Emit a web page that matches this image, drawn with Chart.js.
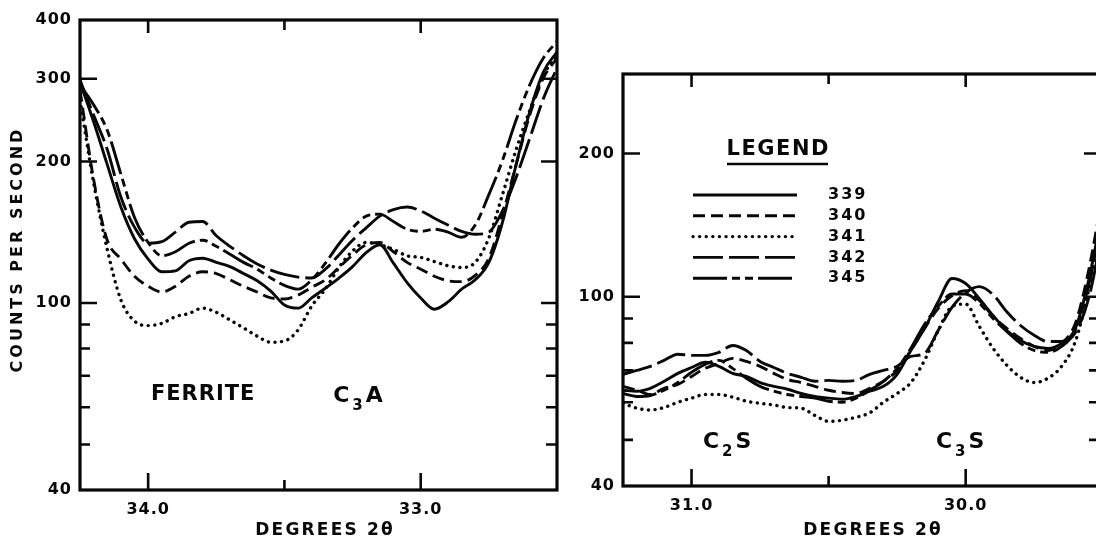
<!DOCTYPE html>
<html>
<head>
<meta charset="utf-8">
<title>Diffraction traces, clinker samples</title>
<script src="https://cdn.jsdelivr.net/npm/chart.js@4.4.1/dist/chart.umd.min.js"></script>
<style>
html, body { margin: 0; padding: 0; background: #fff; overflow: hidden; }
body { position: relative; width: 1096px; height: 543px; }
canvas { position: absolute; top: 0; }
#ferrite_chart { left: 0; }
#silicate_chart { left: 570px; }
</style>
</head>
<body>
<canvas id="ferrite_chart" width="570" height="543"></canvas>
<canvas id="silicate_chart" width="540" height="543"></canvas>
<script>
var samples = ['339', '340', '341', '342', '345'];
var lineDashes = [[], [12, 6], [0.1, 6.5], [30, 6], [34, 5, 8, 5, 8, 5]];

// ferrite / C3A window (degrees 2-theta, counts per second)
var leftDeg = [34.25, 34.20, 34.15, 34.10, 34.05, 34.00, 33.95, 33.90, 33.85, 33.80, 33.75, 33.70,
               33.65, 33.60, 33.55, 33.50, 33.45, 33.40, 33.35, 33.30, 33.25, 33.20, 33.15, 33.10,
               33.05, 33.00, 32.95, 32.90, 32.85, 32.80, 32.75, 32.70, 32.65, 32.60, 32.55, 32.50];
var left339 = [295, 243, 197, 160, 137, 124, 116.5, 117, 123, 124.5, 122, 119.5,
               115.5, 111.5, 106, 99, 97.5, 102.5, 107.5, 113, 119.5, 128, 133, 121.5,
               110.5, 102.5, 97, 100.5, 107, 112, 122, 148.5, 197, 255, 310, 342];
var left340 = [284, 183, 136, 124, 114, 108.5, 105.5, 108.5, 114, 116.5, 115.5, 112,
               108.5, 105.5, 102.5, 102, 104, 108, 112, 119, 126.5, 133, 134.5, 128.5,
               122, 118, 114, 111.5, 111, 114.5, 124.5, 154, 197, 251, 301, 332];
var left341 = [270, 180, 130, 101.5, 91.5, 89.5, 90.5, 93.5, 95, 97.5, 95.5, 92,
               88.5, 85, 82.5, 83, 87.6, 98.5, 107, 119, 129, 134.5, 133, 130,
               126, 125, 122.5, 120, 119, 122, 137.5, 170, 212, 257, 305, 337];
var left342 = [298, 251, 212, 168, 145, 134, 135, 141.5, 148.5, 149, 139, 132,
               126, 121, 117.5, 115, 113.5, 113, 118, 126.5, 136, 144.5, 153, 158,
               160, 157, 151.5, 146.5, 142, 140, 141.5, 157, 185, 224, 272, 316];
var left345 = [291, 264, 233, 188, 152, 134.5, 126, 128.5, 134, 136, 132, 127,
               122, 118, 113, 109, 107, 112, 121.5, 133.5, 144.5, 153, 154.5, 149,
               143.5, 142, 143.5, 141.5, 138, 146.5, 170, 201, 245, 291, 332, 360];

// C2S / C3S window
var rightDeg = [31.25, 31.20, 31.15, 31.10, 31.05, 31.00, 30.95, 30.90, 30.85, 30.80, 30.75, 30.70,
                30.65, 30.60, 30.55, 30.50, 30.45, 30.40, 30.35, 30.30, 30.25, 30.20, 30.15, 30.10,
                30.05, 30.00, 29.95, 29.90, 29.85, 29.80, 29.75, 29.70, 29.65, 29.60, 29.55, 29.50];
var right339 = [63.6, 63.3, 64.2, 66.4, 69.0, 71.0, 72.8, 71.4, 69.0, 68.0, 66.0, 64.8,
                63.9, 62.6, 61.7, 61.2, 60.9, 61.7, 63.3, 64.8, 68.7, 77.1, 85.8, 97.7,
                109.2, 106.6, 99.1, 91.3, 84.9, 80.9, 78.6, 77.9, 79.8, 85.8, 109.2, 153];
var right340 = [64.8, 63.6, 62.3, 64.2, 65.4, 68.0, 70.7, 72.4, 74.2, 73.1, 71.4, 69.0,
                67.0, 66.0, 64.8, 63.6, 62.9, 62.6, 64.2, 66.4, 70.0, 77.1, 85.8, 94.5,
                100.5, 103, 98.2, 90.9, 85.8, 81.7, 78.6, 77.1, 79.8, 87.9, 114.6, 165];
var right341 = [59.7, 58.3, 57.8, 58.5, 60.0, 61.2, 62.3, 62.3, 61.5, 60.3, 59.7, 59.2,
                58.5, 58.3, 56.3, 54.7, 55.0, 55.8, 57.0, 60.0, 62.6, 66.0, 73.5, 84.9,
                95.4, 96.5, 86.6, 77.9, 71.8, 67.7, 66.0, 67.4, 71.4, 80.5, 104, 142];
var right342 = [68.7, 70.0, 71.4, 73.5, 75.7, 75.3, 75.3, 76.4, 79.0, 77.1, 73.1, 71.0,
                69.0, 67.7, 66.4, 66.7, 66.4, 66.7, 68.7, 70.0, 71.4, 74.9, 76, 85,
                95, 102, 105, 101, 93, 87, 83, 80.5, 80.5, 84, 100, 138];
var right345 = [62.6, 61.7, 62.0, 63.6, 66.0, 69.4, 72.1, 73.5, 70.7, 67.4, 64.8, 63.3,
                62.3, 61.7, 61.2, 60.3, 60.0, 61.2, 63.6, 66.4, 70.7, 77.9, 87.5, 95.5,
                101.3, 101.3, 96.9, 90.0, 84.5, 79.8, 77.1, 76.4, 78.6, 85.1, 106.6, 149];

var leftXTicks = [34.0, 33.0];
var leftXMinor = [33.5];
var leftYTicks = [40, 100, 200, 300, 400];
var rightXTicks = [31.0, 30.0];
var rightXMinor = [30.5];
var rightYTicks = [40, 100, 200];
var yMinor = [50, 60, 70, 80, 90];

var ink = '#080808';
var face = '"DejaVu Sans"';
var tickFont = { family: 'DejaVu Sans', size: 16, weight: 'bold' };

function label(ctx, text, x, y, px, spacing, align) {
  ctx.save();
  ctx.font = 'bold ' + px + 'px ' + face;
  ctx.letterSpacing = spacing + 'px';
  ctx.fillStyle = ink;
  ctx.textAlign = align || 'center';
  ctx.textBaseline = 'middle';
  // letterSpacing leaves a trailing gap, pull centred text back by half of it
  ctx.fillText(text, x + (align ? 0 : spacing / 2), y);
  ctx.restore();
}

// phase names such as C3A, with the digit set as a subscript
function chem(ctx, x, y, head, sub, tail) {
  var big = 'bold 22px ' + face, small = 'bold 15px ' + face;
  ctx.save();
  ctx.fillStyle = ink;
  ctx.letterSpacing = '0px';
  ctx.textAlign = 'left';
  ctx.textBaseline = 'alphabetic';
  ctx.font = big;
  var w1 = ctx.measureText(head).width, w3 = ctx.measureText(tail).width;
  ctx.font = small;
  var w2 = ctx.measureText(sub).width;
  var gap = 3, sx = x - (w1 + w2 + w3 + 2 * gap) / 2, base = y + 8;
  ctx.font = big;
  ctx.fillText(head, sx, base);
  ctx.font = small;
  ctx.fillText(sub, sx + w1 + gap, base + 8);
  ctx.font = big;
  ctx.fillText(tail, sx + w1 + w2 + 2 * gap, base);
  ctx.restore();
}

var framePlugin = {
  id: 'frame',
  beforeDraw: function (chart) {
    chart.ctx.letterSpacing = '1px';
  },
  afterDraw: function (chart, args, opts) {
    var ctx = chart.ctx, a = chart.chartArea;
    var xs = chart.scales.x, ys = chart.scales.y;
    ctx.save();
    ctx.strokeStyle = ink;
    ctx.setLineDash([]);
    ctx.lineWidth = 3.2;
    ctx.strokeRect(a.left, a.top, a.right - a.left, a.bottom - a.top);
    ctx.lineWidth = 2.6;
    ctx.beginPath();
    opts.xMajor.forEach(function (v) {
      var px = xs.getPixelForValue(v);
      ctx.moveTo(px, a.bottom); ctx.lineTo(px, a.bottom - 17);
      ctx.moveTo(px, a.top); ctx.lineTo(px, a.top + 13);
    });
    opts.xMinor.forEach(function (v) {
      var px = xs.getPixelForValue(v);
      ctx.moveTo(px, a.bottom); ctx.lineTo(px, a.bottom - 10);
      ctx.moveTo(px, a.top); ctx.lineTo(px, a.top + 10);
    });
    opts.yMajor.forEach(function (v) {
      if (v <= ys.min || v >= ys.max) return;
      var py = ys.getPixelForValue(v);
      ctx.moveTo(a.left, py); ctx.lineTo(a.left + 17, py);
      ctx.moveTo(a.right, py); ctx.lineTo(a.right - 16, py);
    });
    opts.yMinor.forEach(function (v) {
      var py = ys.getPixelForValue(v);
      ctx.moveTo(a.left, py); ctx.lineTo(a.left + 10, py);
      ctx.moveTo(a.right, py); ctx.lineTo(a.right - 11, py);
    });
    ctx.stroke();
    ctx.restore();
  }
};

var notesPlugin = {
  id: 'notes',
  afterDraw: function (chart, args, opts) {
    var ctx = chart.ctx, a = chart.chartArea;
    var xs = chart.scales.x, ys = chart.scales.y;
    if (opts.yTitle) {
      ctx.save();
      ctx.translate(17.5, 251);
      ctx.rotate(-Math.PI / 2);
      label(ctx, opts.yTitle, 0, 0, 16, 3);
      ctx.restore();
    }
    label(ctx, 'DEGREES 2\u03b8', opts.xTitleX, 531, 17, 2.2);
    opts.phases.forEach(function (p) {
      var px = xs.getPixelForValue(p.deg), py = ys.getPixelForValue(p.at);
      if (p.sub) chem(ctx, px, py, p.head, p.sub, p.tail);
      else label(ctx, p.head, px, py, 21, 1);
    });
    if (!opts.legend) return;
    var x1 = a.left + 70, x2 = a.left + 174, lx = a.left + 205;
    label(ctx, 'LEGEND', a.left + 154.5, 150, 21, 1.5);
    ctx.save();
    ctx.strokeStyle = ink;
    ctx.lineWidth = 2.6;
    ctx.beginPath();
    ctx.moveTo(a.left + 104, 164); ctx.lineTo(a.left + 205, 164);
    ctx.stroke();
    chart.data.datasets.forEach(function (ds, i) {
      var y = 195 + i * 20.8;
      ctx.setLineDash(ds.borderDash);
      ctx.lineCap = ds.borderCapStyle;
      ctx.lineWidth = ds.borderWidth;
      ctx.beginPath();
      ctx.moveTo(x1, y); ctx.lineTo(x2, y);
      ctx.stroke();
      label(ctx, ds.label, lx, y, 16, 2, 'left');
    });
    ctx.restore();
  }
};

function datasets(xs, series) {
  return series.map(function (vals, i) {
    return {
      label: samples[i],
      data: xs.map(function (x, k) { return { x: x, y: vals[k] }; }),
      borderColor: ink,
      borderWidth: i === 2 ? 3.4 : 2.9,
      borderDash: lineDashes[i],
      borderCapStyle: i === 2 ? 'round' : 'butt',
      pointRadius: 0,
      cubicInterpolationMode: 'monotone',
      fill: false
    };
  });
}

function panel(id, xs, series, o) {
  return new Chart(document.getElementById(id), {
    type: 'line',
    data: { datasets: datasets(xs, series) },
    plugins: [framePlugin, notesPlugin],
    options: {
      responsive: false,
      animation: false,
      events: [],
      layout: { padding: { top: o.top, right: o.padRight, left: 0, bottom: 0 } },
      plugins: {
        legend: { display: false },
        tooltip: { enabled: false },
        frame: { xMajor: o.xTicks, xMinor: o.xMinor, yMajor: o.yTicks, yMinor: yMinor },
        notes: o.notes
      },
      scales: {
        x: {
          type: 'linear', reverse: true, min: o.xMin, max: o.xMax,
          grid: { display: false, drawTicks: false },
          border: { display: false },
          ticks: {
            font: tickFont, color: ink, padding: 10, autoSkip: false, maxRotation: 0,
            callback: function (v) { return Number(v).toFixed(1); }
          },
          afterBuildTicks: function (s) { s.ticks = o.xTicks.map(function (v) { return { value: v }; }); },
          afterFit: function (s) { s.height = o.xAxisHeight; }
        },
        y: {
          type: 'logarithmic', min: 40, max: o.yMax,
          grid: { display: false, drawTicks: false },
          border: { display: false },
          ticks: { font: tickFont, color: ink, padding: 8, callback: function (v) { return String(v); } },
          afterBuildTicks: function (s) { s.ticks = o.yTicks.map(function (v) { return { value: v }; }); },
          afterFit: function (s) { s.width = o.yAxisWidth; }
        }
      }
    }
  });
}

panel('ferrite_chart', leftDeg, [left339, left340, left341, left342, left345], {
  top: 20, padRight: 13, yAxisWidth: 80, xAxisHeight: 53,
  xMin: 32.5, xMax: 34.25, yMax: 400,
  xTicks: leftXTicks, xMinor: leftXMinor, yTicks: leftYTicks,
  notes: {
    yTitle: 'COUNTS PER SECOND', xTitleX: 324, legend: false,
    phases: [
      { head: 'FERRITE', deg: 33.80, at: 64 },
      { head: 'C', sub: '3', tail: 'A', deg: 33.23, at: 64 }
    ]
  }
});

panel('silicate_chart', rightDeg, [right339, right340, right341, right342, right345], {
  top: 74, padRight: 10, yAxisWidth: 53, xAxisHeight: 57,
  xMin: 29.51, xMax: 31.25, yMax: 294,
  xTicks: rightXTicks, xMinor: rightXMinor, yTicks: rightYTicks,
  notes: {
    yTitle: null, xTitleX: 302, legend: true,
    phases: [
      { head: 'C', sub: '2', tail: 'S', deg: 30.87, at: 50 },
      { head: 'C', sub: '3', tail: 'S', deg: 30.02, at: 50 }
    ]
  }
});
</script>
</body>
</html>
